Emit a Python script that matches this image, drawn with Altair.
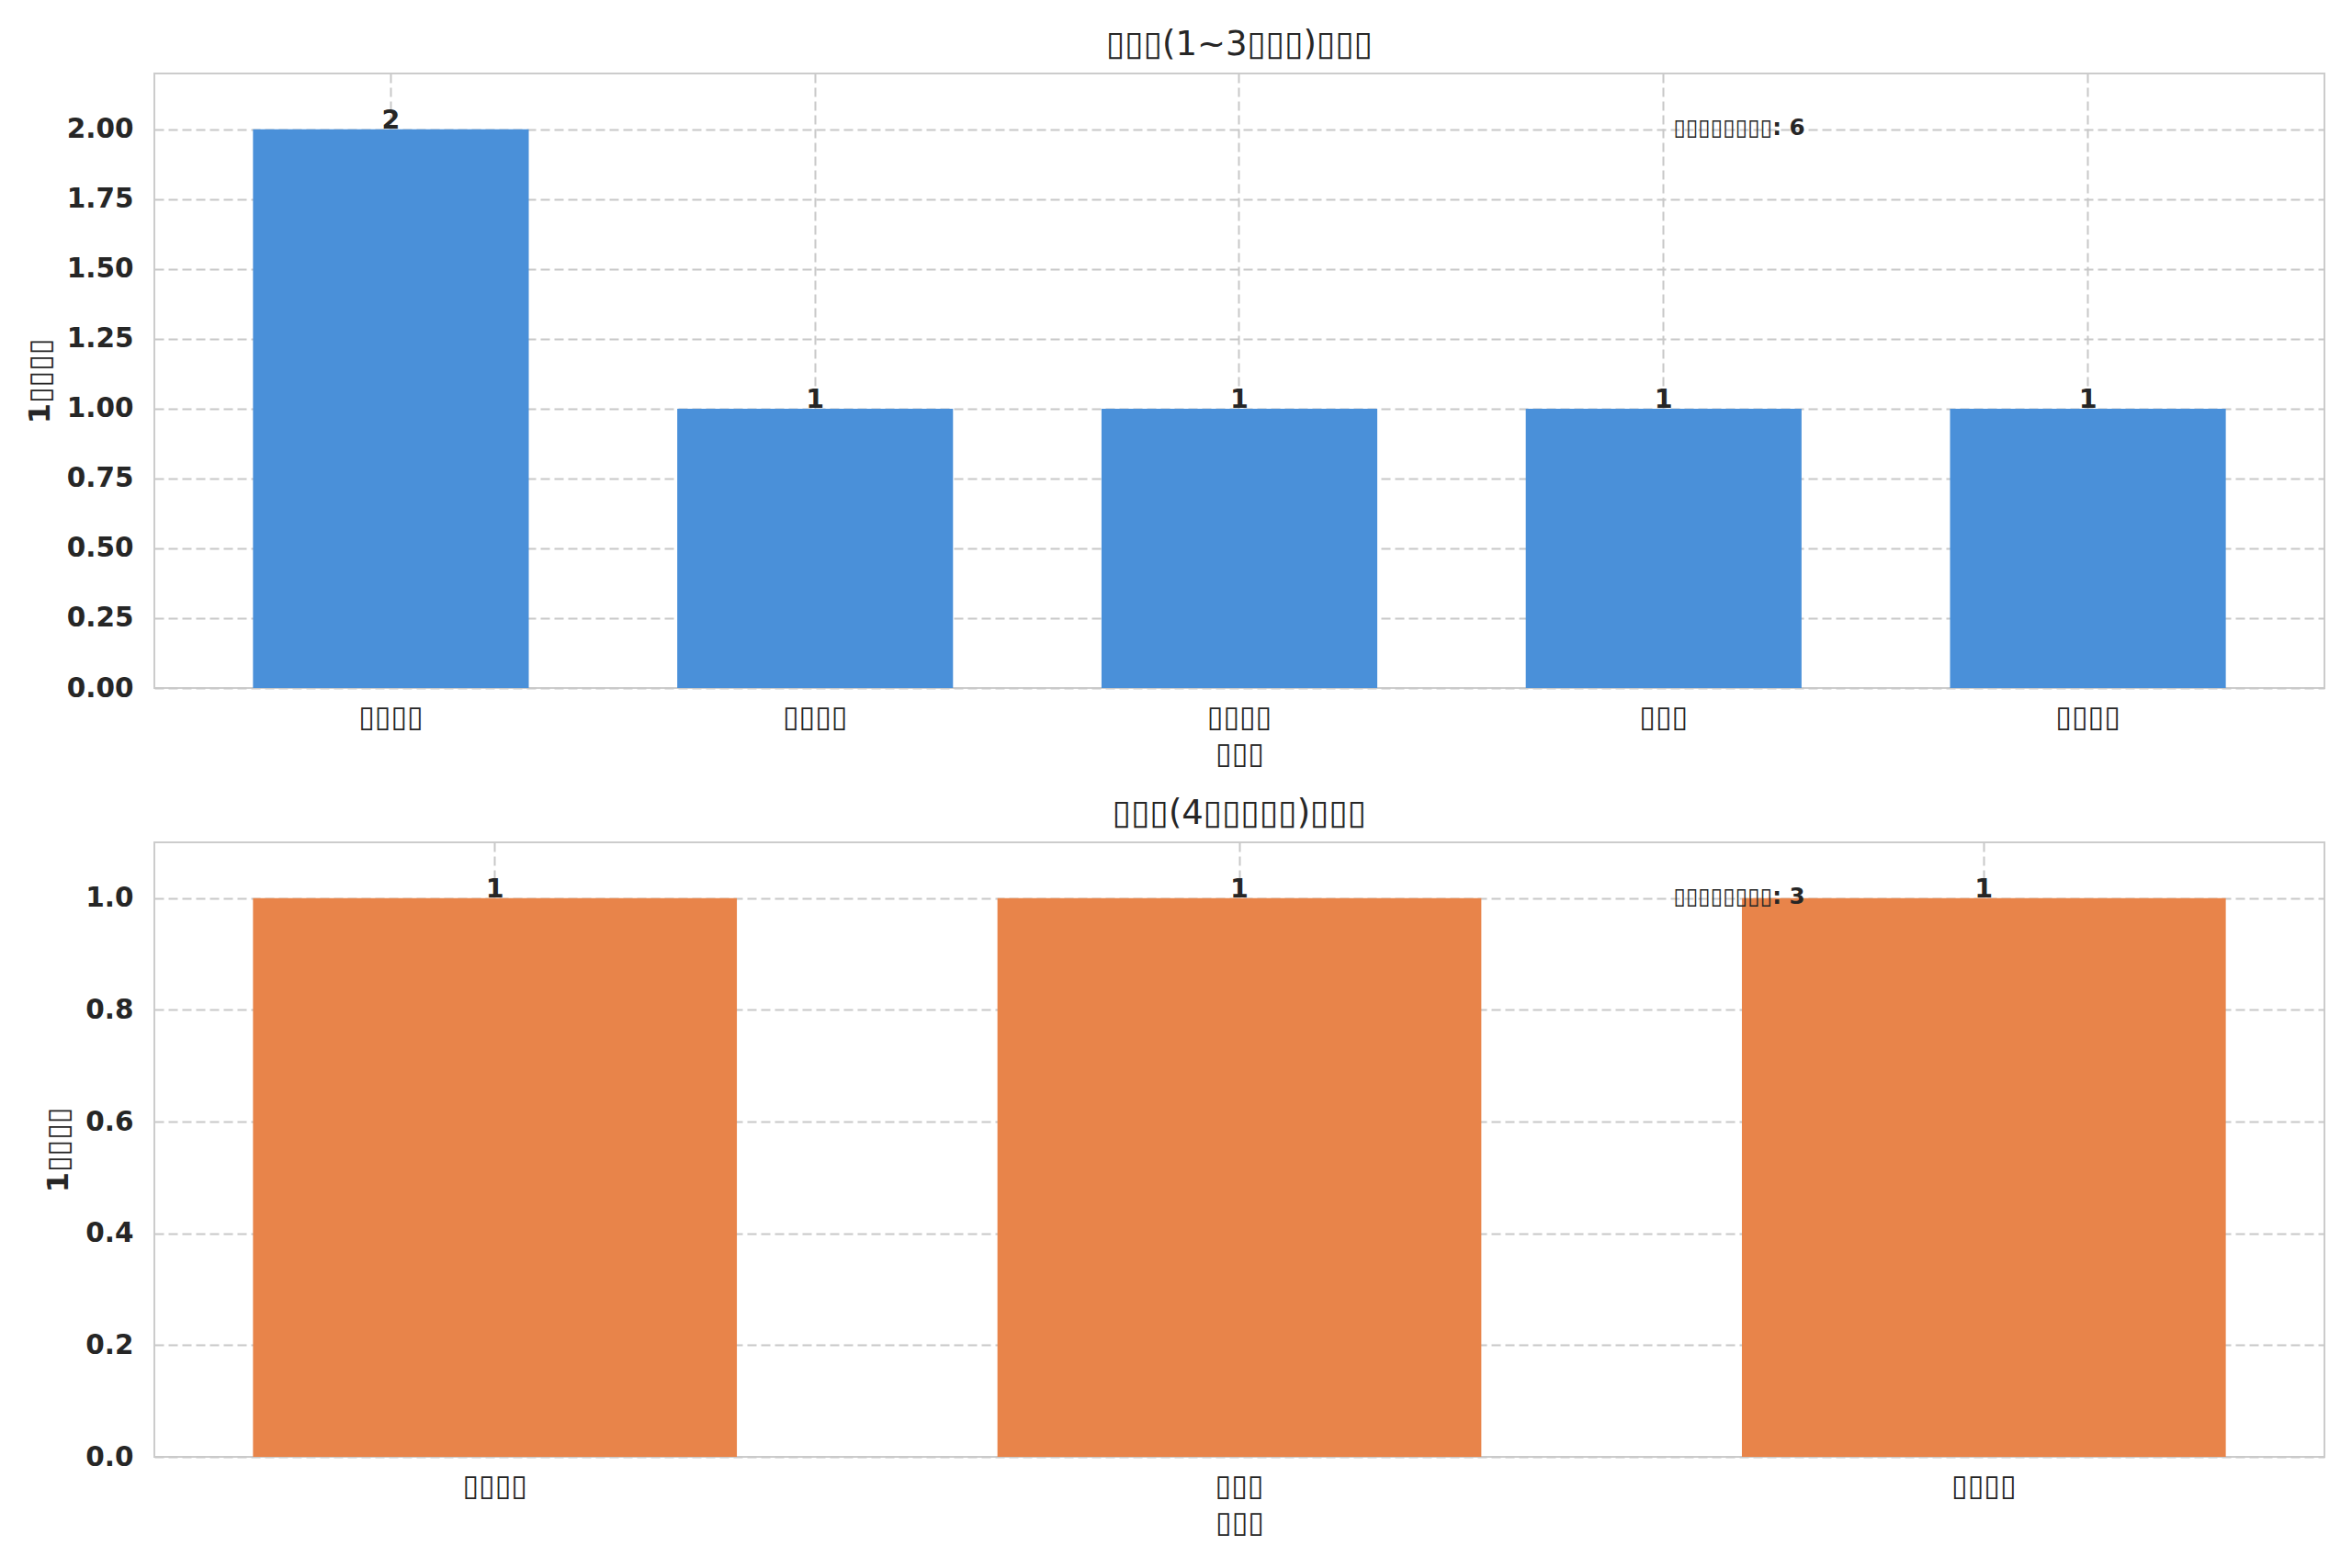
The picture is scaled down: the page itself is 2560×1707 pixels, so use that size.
import json
import altair as alt
import pandas as pd

B = "\u25af"  # box glyph standing in for the unrendered characters

top_labels = [B * 4, B * 4, B * 4, B * 3, B * 4]
top_values = [2, 1, 1, 1, 1]
bottom_labels = [B * 4, B * 3, B * 4]
bottom_values = [1, 1, 1]

top_title = B * 3 + "(1~3" + B * 3 + ")" + B * 3
bottom_title = B * 3 + "(4" + B * 5 + ")" + B * 3
x_title = B * 3
y_title = "1" + B * 4
top_note = B * 8 + ": " + str(sum(top_values))
bottom_note = B * 8 + ": " + str(sum(bottom_values))

top_ticks = [0, 0.25, 0.5, 0.75, 1.0, 1.25, 1.5, 1.75, 2.0]
bottom_ticks = [0, 0.2, 0.4, 0.6, 0.8, 1.0]

W = 2362
H = 669
TEXT = "#262626"


def panel(labels, values, color, title, ymax, ticks, fmt, note, outer):
    df = pd.DataFrame({"idx": list(range(len(values))), "value": values})
    expr = json.dumps(labels, ensure_ascii=False) + "[datum.value]"
    x = alt.X(
        "idx:O",
        scale=alt.Scale(paddingInner=0.35, paddingOuter=outer),
        axis=alt.Axis(
            title=x_title,
            labelExpr=expr,
            labelAngle=0,
            grid=True,
            bandPosition=0.5,
            labelFontSize=32,
            labelFontWeight="normal",
            labelPadding=16,
            titleFontSize=32,
            titleFontWeight="normal",
            titlePadding=9,
        ),
    )
    y = alt.Y(
        "value:Q",
        scale=alt.Scale(domain=[0, ymax], nice=False, zero=True),
        axis=alt.Axis(
            title=y_title,
            values=ticks,
            format=fmt,
            labelFontSize=29.5,
            labelFontWeight="bold",
            labelPadding=23,
            titleFontSize=32,
            titleFontWeight="bold",
            titlePadding=12,
        ),
    )
    base = alt.Chart(df)
    bars = base.mark_bar(color=color).encode(x=x, y=y)
    nums = base.mark_text(
        baseline="alphabetic", dy=-1, fontSize=28.5, fontWeight="bold",
        color=TEXT, font="DejaVu Sans"
    ).encode(x="idx:O", y="value:Q", text="value:Q")
    ndf = pd.DataFrame({"t": [note]})
    ann = alt.Chart(ndf).mark_text(
        align="left", baseline="alphabetic", fontSize=24.5, fontWeight="bold",
        color=TEXT, font="DejaVu Sans"
    ).encode(x=alt.value(0.7 * W), y=alt.value(0.1 * H), text="t:N")
    return alt.layer(bars, nums, ann).properties(
        width=W, height=H, title=alt.TitleParams(text=title)
    )


top = panel(top_labels, top_values, "#4a90d9", top_title, 2.2, top_ticks, ".2f",
            top_note, 0.2325)
bottom = panel(bottom_labels, bottom_values, "#e8844a", bottom_title, 1.1,
               bottom_ticks, ".1f", bottom_note, 0.1325)

chart = (
    alt.vconcat(top, bottom, spacing=29)
    .properties(padding={"left": 18, "top": 21, "right": 10, "bottom": 10},
                background="white")
    .configure_view(stroke="#cccccc", strokeWidth=2)
    .configure_axis(
        domain=False,
        ticks=False,
        tickSize=0,
        gridColor="#c8c8c8",
        gridDash=[10, 5],
        gridWidth=2,
        labelColor=TEXT,
        titleColor=TEXT,
        labelFont="DejaVu Sans",
        titleFont="DejaVu Sans",
    )
    .configure_title(font="DejaVu Sans", fontSize=37, fontWeight="normal",
                     color=TEXT, offset=12)
)

chart.save("out.html", embed_options={"renderer": "svg", "actions": False})
